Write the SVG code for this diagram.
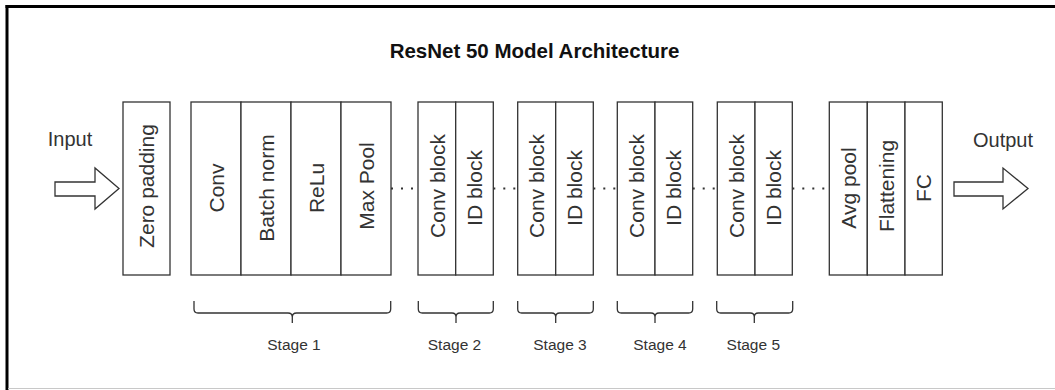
<svg xmlns="http://www.w3.org/2000/svg" width="1055" height="390" viewBox="0 0 1055 390">
<style>
.box{fill:#fff;stroke:#333;stroke-width:1.3}
.lbl{font-family:"Liberation Sans",Arial,sans-serif;font-size:21px;fill:#333;text-anchor:middle;dominant-baseline:central}
.io{font-family:"Liberation Sans",Arial,sans-serif;font-size:20px;fill:#333;text-anchor:middle}
.stage{font-family:"Liberation Sans",Arial,sans-serif;font-size:15.5px;fill:#333;text-anchor:middle}
.brace{fill:none;stroke:#333;stroke-width:1.3}
.dot{fill:none;stroke:#333;stroke-width:2;stroke-dasharray:2 8}
.arrow{fill:#fff;stroke:#333;stroke-width:1.3;stroke-linejoin:miter}
</style>
<rect x="0" y="0" width="1055" height="390" fill="#fff"/>
<g id="frame">
<line x1="7" y1="5" x2="7" y2="390" stroke="#000" stroke-width="3"/>
<line x1="5.5" y1="6.5" x2="1055" y2="6.5" stroke="#000" stroke-width="3"/>
<line x1="8" y1="388.5" x2="1055" y2="388.5" stroke="#c8c8c8" stroke-width="1"/>
</g>
<text id="title" x="534.5" y="57.5" style="font-family:'Liberation Sans',Arial,sans-serif;font-size:20.5px;font-weight:bold;fill:#111;text-anchor:middle">ResNet 50 Model Architecture</text>
<g id="input">
<text class="io" x="70" y="146">Input</text>
<path class="arrow" d="M55 182 H95 V168 L119 188.5 L95 209 V196 H55 Z"/>
</g>
<g id="output">
<text class="io" x="1003" y="146.5">Output</text>
<path class="arrow" d="M954 182 H1003 V168 L1028 188.5 L1003 209 V196 H954 Z"/>
</g>
<g id="zero-padding">
<rect class="box" x="123" y="102" width="47" height="173"/>
<text class="lbl" transform="translate(146.5 186) rotate(-90)">Zero padding</text>
</g>
<g id="stage1">
<rect class="box" x="191" y="102" width="50" height="173"/>
<text class="lbl" transform="translate(216 188) rotate(-90)">Conv</text>
<rect class="box" x="241" y="102" width="50" height="173"/>
<text class="lbl" transform="translate(266 188) rotate(-90)">Batch norm</text>
<rect class="box" x="291" y="102" width="50" height="173"/>
<text class="lbl" transform="translate(316 188) rotate(-90)">ReLu</text>
<rect class="box" x="341" y="102" width="50" height="173"/>
<text class="lbl" transform="translate(366 186) rotate(-90)">Max Pool</text>
</g>
<g id="stage2">
<rect class="box" x="418" y="102" width="37.7" height="173"/>
<text class="lbl" transform="translate(437 186) rotate(-90)">Conv block</text>
<rect class="box" x="455.7" y="102" width="37.6" height="173"/>
<text class="lbl" transform="translate(474.5 188) rotate(-90)">ID block</text>
</g>
<g id="stage3">
<rect class="box" x="517.7" y="102" width="38" height="173"/>
<text class="lbl" transform="translate(536.7 186) rotate(-90)">Conv block</text>
<rect class="box" x="555.7" y="102" width="37.6" height="173"/>
<text class="lbl" transform="translate(574.5 188) rotate(-90)">ID block</text>
</g>
<g id="stage4">
<rect class="box" x="617.3" y="102" width="37.7" height="173"/>
<text class="lbl" transform="translate(636.2 186) rotate(-90)">Conv block</text>
<rect class="box" x="655" y="102" width="37.7" height="173"/>
<text class="lbl" transform="translate(673.9 188) rotate(-90)">ID block</text>
</g>
<g id="stage5">
<rect class="box" x="717.3" y="102" width="37.7" height="173"/>
<text class="lbl" transform="translate(736.2 186) rotate(-90)">Conv block</text>
<rect class="box" x="755" y="102" width="37.3" height="173"/>
<text class="lbl" transform="translate(773.7 188) rotate(-90)">ID block</text>
</g>
<g id="head">
<rect class="box" x="829.3" y="102" width="38" height="173"/>
<text class="lbl" transform="translate(848.3 188) rotate(-90)">Avg pool</text>
<rect class="box" x="867.3" y="102" width="37.7" height="173"/>
<text class="lbl" transform="translate(886.2 186) rotate(-90)">Flattening</text>
<rect class="box" x="905" y="102" width="37.3" height="173"/>
<text class="lbl" transform="translate(923.7 188) rotate(-90)">FC</text>
</g>
<g id="connectors">
<line class="dot" x1="391" y1="188.5" x2="418" y2="188.5"/>
<line class="dot" x1="493.3" y1="188.5" x2="517.7" y2="188.5"/>
<line class="dot" x1="593.3" y1="188.5" x2="617.3" y2="188.5"/>
<line class="dot" x1="692.7" y1="188.5" x2="717.3" y2="188.5"/>
<line class="dot" x1="792.3" y1="188.5" x2="829.3" y2="188.5"/>
</g>
<g id="braces">
<path class="brace" d="M194 301 V309 Q194 313 198 313 H288 Q292.3 313 292.3 317 V323 M292.3 317 Q292.3 313 296.6 313 H386.7 Q390.7 313 390.7 309 V301"/>
<path class="brace" d="M418.3 301 V309 Q418.3 313 422.3 313 H452 Q456 313 456 317 V323 M456 317 Q456 313 460 313 H489.3 Q493.3 313 493.3 309 V301"/>
<path class="brace" d="M517.7 301 V309 Q517.7 313 521.7 313 H551.7 Q555.7 313 555.7 317 V323 M555.7 317 Q555.7 313 559.7 313 H589.3 Q593.3 313 593.3 309 V301"/>
<path class="brace" d="M617.3 301 V309 Q617.3 313 621.3 313 H651 Q655 313 655 317 V323 M655 317 Q655 313 659 313 H688.7 Q692.7 313 692.7 309 V301"/>
<path class="brace" d="M716.7 301 V309 Q716.7 313 720.7 313 H750.3 Q754.3 313 754.3 317 V323 M754.3 317 Q754.3 313 758.3 313 H788.7 Q792.7 313 792.7 309 V301"/>
</g>
<g id="stage-labels">
<text class="stage" x="294" y="350">Stage 1</text>
<text class="stage" x="454.5" y="350">Stage 2</text>
<text class="stage" x="560" y="350">Stage 3</text>
<text class="stage" x="660" y="350">Stage 4</text>
<text class="stage" x="753.3" y="350">Stage 5</text>
</g>
</svg>
